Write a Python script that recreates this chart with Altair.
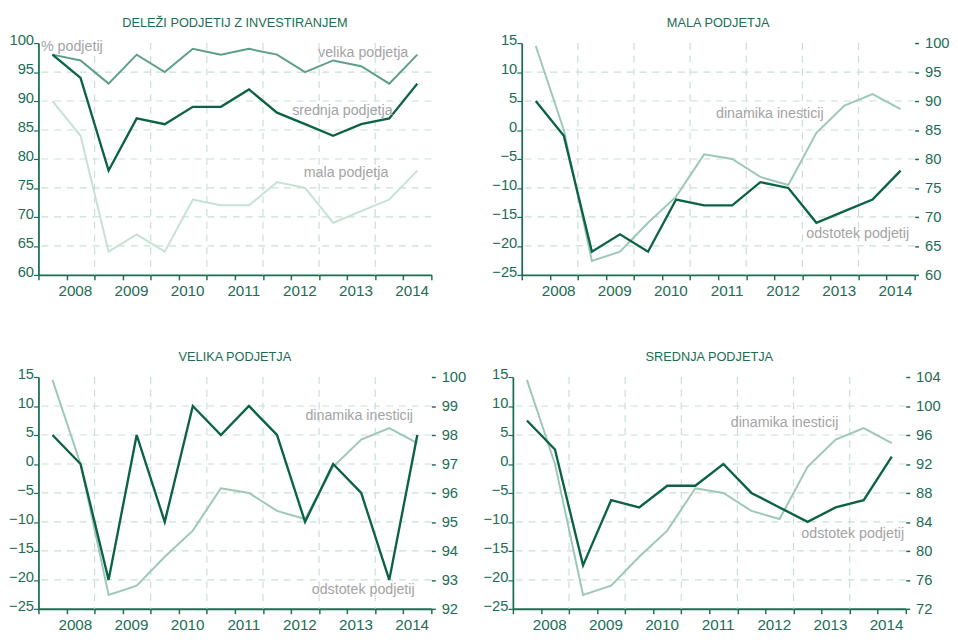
import json
import altair as alt
import pandas as pd

# ---------------- data (half-year periods 2008 H1 ... 2014 H2) ----------------
years = [2008, 2009, 2010, 2011, 2012, 2013, 2014]
periods = list(range(14))
velika_pct = [98, 97, 93, 98, 95, 99, 98, 99, 98, 95, 97, 96, 93, 98]
srednja_pct = [98, 94, 78, 87, 86, 89, 89, 92, 88, 86, 84, 86, 87, 93]
mala_pct = [90, 84, 64, 67, 64, 73, 72, 72, 76, 75, 69, 71, 73, 78]
dinamika = [14.5, 0, -22.6, -21, -16, -11.5, -4.2, -5, -8.1, -9.5, -0.5, 4.2, 6.2, 3.6]

titles = ["DELEŽI PODJETIJ Z INVESTIRANJEM", "MALA PODJETJA", "VELIKA PODJETJA", "SREDNJA PODJETJA"]

left_ticks_share = [60, 65, 70, 75, 80, 85, 90, 95, 100]
left_ticks_dyn = [-25, -20, -15, -10, -5, 0, 5, 10, 15]
right_ticks_mala = [60, 65, 70, 75, 80, 85, 90, 95, 100]
right_ticks_velika = [92, 93, 94, 95, 96, 97, 98, 99, 100]
right_ticks_srednja = [72, 76, 80, 84, 88, 92, 96, 100, 104]

# annotation labels (in data units of each panel's left scale)
ann1 = {"label": ["% podjetij", "velika podjetja", "srednja podjetja", "mala podjetja"],
        "x": [1.19, 11.57, 10.83, 10.96], "y": [99.3, 98.2, 88.3, 77.5]}
ann2 = {"label": ["dinamika inesticij", "odstotek podjetij"], "x": [8.84, 11.97], "y": [2.8, -17.9]}
ann3 = {"label": ["dinamika inesticij", "odstotek podjetij"], "x": [11.43, 11.57], "y": [8.3, -21.8]}
ann4 = {"label": ["dinamika inesticij", "odstotek podjetij"], "x": [9.68, 12.11], "y": [7.1, -12.1]}

# ---------------- styles ----------------
GREEN_TXT = "#1b6d54"
DARK = "#0c6246"
MED = "#5c9e86"
LIGHT = "#9dc8b6"
LIGHTEST = "#c6e2d5"
GRID = "#c9dfd4"
GRAY = "#a3a3a3"
FONT = "Liberation Sans, Arial, sans-serif"
TFONT = "Liberation Sans Narrow, Arial Narrow, Liberation Sans, sans-serif"
W, H = 400, 236

XS = alt.Scale(domain=[0, len(periods)], nice=False, zero=False)
year_labels = json.dumps([str(y) for y in years])
XAXIS = alt.Axis(
    values=list(range(len(periods) + 1)),
    labelExpr=f"datum.value % 2 == 1 ? {year_labels}[floor(datum.value / 2)] : ''",
    grid=False, domainColor=GREEN_TXT, domainWidth=2, tickColor=GREEN_TXT,
    tickSize=5, tickWidth=1.5, labelColor=GREEN_TXT, labelFont=FONT, labelFontSize=15.5,
    labelPadding=4, labelOverlap=False, labelFlush=False, labelAngle=0, labelOffset=8.5,
    title=None,
)


def left_axis(vals):
    return alt.Axis(values=vals, grid=False, domainColor=GREEN_TXT, domainWidth=1.8,
                    tickColor=GREEN_TXT, tickSize=5, tickWidth=1.2, labelColor=GREEN_TXT,
                    labelFont=FONT, labelFontSize=15, labelPadding=0, labelBaseline="alphabetic",
                    labelOffset=1.5, minExtent=30, maxExtent=30, labelOverlap=False,
                    labelFlush=False, title=None)


def right_axis(vals):
    return alt.Axis(orient="right", values=vals, grid=False, domain=False, tickColor=GREEN_TXT,
                    tickSize=4, tickWidth=1.5, labelColor=GREEN_TXT, labelFont=FONT,
                    labelFontSize=15, labelPadding=6, labelBaseline="middle",
                    labelOverlap=False, labelFlush=False,
                    minExtent=36, maxExtent=36, title=None)


def xenc(field):
    return alt.X(f"{field}:Q", scale=XS, axis=XAXIS)


def vgrid():
    df = pd.DataFrame({"pos": [2 * i for i in range(1, len(years))]})
    return alt.Chart(df).mark_rule(color=GRID, strokeDash=[7, 6], strokeWidth=1.2).encode(x=xenc("pos"))


def hgrid(vals, ys, axis):
    df = pd.DataFrame({"v": vals[1:-1]})
    return alt.Chart(df).mark_rule(color=GRID, strokeDash=[7, 6], strokeWidth=1.2).encode(
        y=alt.Y("v:Q", scale=ys, axis=axis))


def line(values, color, ys, axis, width=2.2):
    df = pd.DataFrame({"pos": [p + 0.5 for p in periods], "value": values})
    return alt.Chart(df).mark_line(color=color, strokeWidth=width, strokeJoin="miter").encode(
        x=xenc("pos"), y=alt.Y("value:Q", scale=ys, axis=axis))


def labels(ann, ys, axis):
    df = pd.DataFrame(ann)
    return alt.Chart(df).mark_text(font=FONT, fontSize=14.5, color=GRAY, align="center",
                                   baseline="middle").encode(
        x=xenc("x"), y=alt.Y("y:Q", scale=ys, axis=axis), text="label:N")


def title(t):
    return alt.TitleParams(t, font=TFONT, fontSize=13, color=GREEN_TXT, fontWeight="normal",
                           anchor="middle", frame="group", offset=3)


# ---------------- panel 1 ----------------
ys1 = alt.Scale(domain=[60, 100], nice=False, zero=False)
ax1 = left_axis(left_ticks_share)
p1 = alt.layer(
    vgrid(), hgrid(left_ticks_share, ys1, ax1),
    line(mala_pct, LIGHTEST, ys1, ax1, 2),
    line(velika_pct, MED, ys1, ax1, 2),
    line(srednja_pct, DARK, ys1, ax1, 2.4),
    labels(ann1, ys1, ax1),
).properties(width=W, height=H, title=title(titles[0]))


def dual_panel(pct, rticks, ann, t):
    ysl = alt.Scale(domain=[-25, 15], nice=False, zero=False)
    ysr = alt.Scale(domain=[rticks[0], rticks[-1]], nice=False, zero=False)
    axl = left_axis(left_ticks_dyn)
    left = alt.layer(
        vgrid(), hgrid(left_ticks_dyn, ysl, axl),
        line(dinamika, LIGHT, ysl, axl, 2),
        labels(ann, ysl, axl),
    )
    right = line(pct, DARK, ysr, right_axis(rticks), 2.4)
    return alt.layer(left, right).resolve_scale(y="independent").properties(
        width=W, height=H, title=title(t))


p2 = dual_panel(mala_pct, right_ticks_mala, ann2, titles[1])
p3 = dual_panel(velika_pct, right_ticks_velika, ann3, titles[2])
p4 = dual_panel(srednja_pct, right_ticks_srednja, ann4, titles[3])

top = alt.hconcat(p1, p2, spacing=52)
bottom = alt.hconcat(p3, p4, spacing=16)
chart = alt.vconcat(top, bottom, spacing=52).properties(
    padding={"left": 0, "top": 3, "right": 0, "bottom": 0},
    background="white",
).configure_view(stroke=None)

chart.save("out.html", embed_options={"renderer": "svg", "actions": False})
